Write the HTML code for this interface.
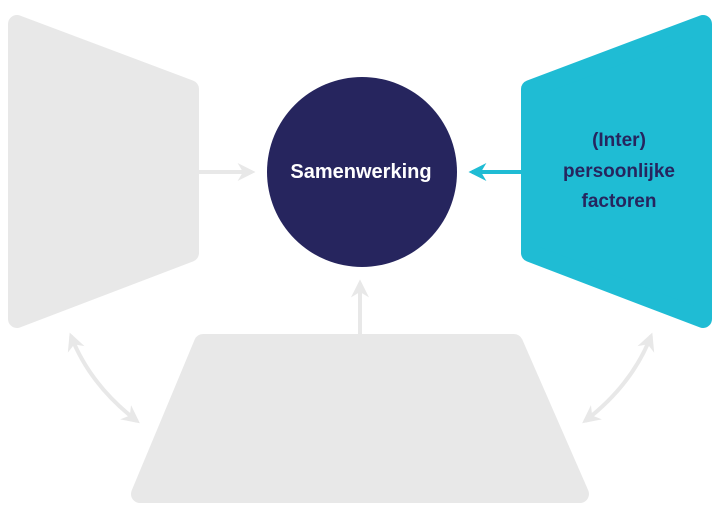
<!DOCTYPE html>
<html><head><style>
html,body{margin:0;padding:0;background:#fff;width:720px;height:513px;overflow:hidden}
</style></head><body>
<svg width="720" height="513" viewBox="0 0 720 513" xmlns="http://www.w3.org/2000/svg">
<defs>
<marker id="ag" viewBox="0 0 10 10" refX="8" refY="5" markerWidth="4.5" markerHeight="4.5" orient="auto-start-reverse"><path d="M0,0 L10,5 L0,10 L3,5 Z" fill="#e8e8e8"/></marker>
<marker id="ac" viewBox="0 0 10 10" refX="8" refY="5" markerWidth="4.5" markerHeight="4.5" orient="auto"><path d="M0,0 L10,5 L0,10 L3,5 Z" fill="#1fbcd4"/></marker>
</defs>
<g stroke-linejoin="round" stroke-width="18">
<path d="M17,24 L190,89 L190,253 L17,319 Z" fill="#e8e8e8" stroke="#e8e8e8"/>
<path d="M703,24 L530,89 L530,253 L703,319 Z" fill="#1fbcd4" stroke="#1fbcd4"/>
<path d="M203,343 L514,343 L580,494 L140,494 Z" fill="#e8e8e8" stroke="#e8e8e8"/>
</g>
<circle cx="362" cy="172" r="95" fill="#26255e"/>
<line x1="199" y1="172" x2="252" y2="172" stroke="#e8e8e8" stroke-width="4" marker-end="url(#ag)"/>
<line x1="522" y1="172" x2="472" y2="172" stroke="#1fbcd4" stroke-width="4" marker-end="url(#ac)"/>
<line x1="360" y1="334" x2="360" y2="283" stroke="#e8e8e8" stroke-width="4" marker-end="url(#ag)"/>
<path d="M71,336 Q90,385 137,421" fill="none" stroke="#e8e8e8" stroke-width="4" marker-start="url(#ag)" marker-end="url(#ag)"/>
<path d="M651,336 Q632,385 585,421" fill="none" stroke="#e8e8e8" stroke-width="4" marker-start="url(#ag)" marker-end="url(#ag)"/>
<text x="361" y="178" text-anchor="middle" font-family="Liberation Sans, sans-serif" font-weight="bold" font-size="20" fill="#fff">Samenwerking</text>
<g font-family="Liberation Sans, sans-serif" font-weight="bold" font-size="19" fill="#26255e" text-anchor="middle">
<text x="619" y="146">(Inter)</text>
<text x="619" y="177">persoonlijke</text>
<text x="619" y="207">factoren</text>
</g>
</svg>
</body></html>
